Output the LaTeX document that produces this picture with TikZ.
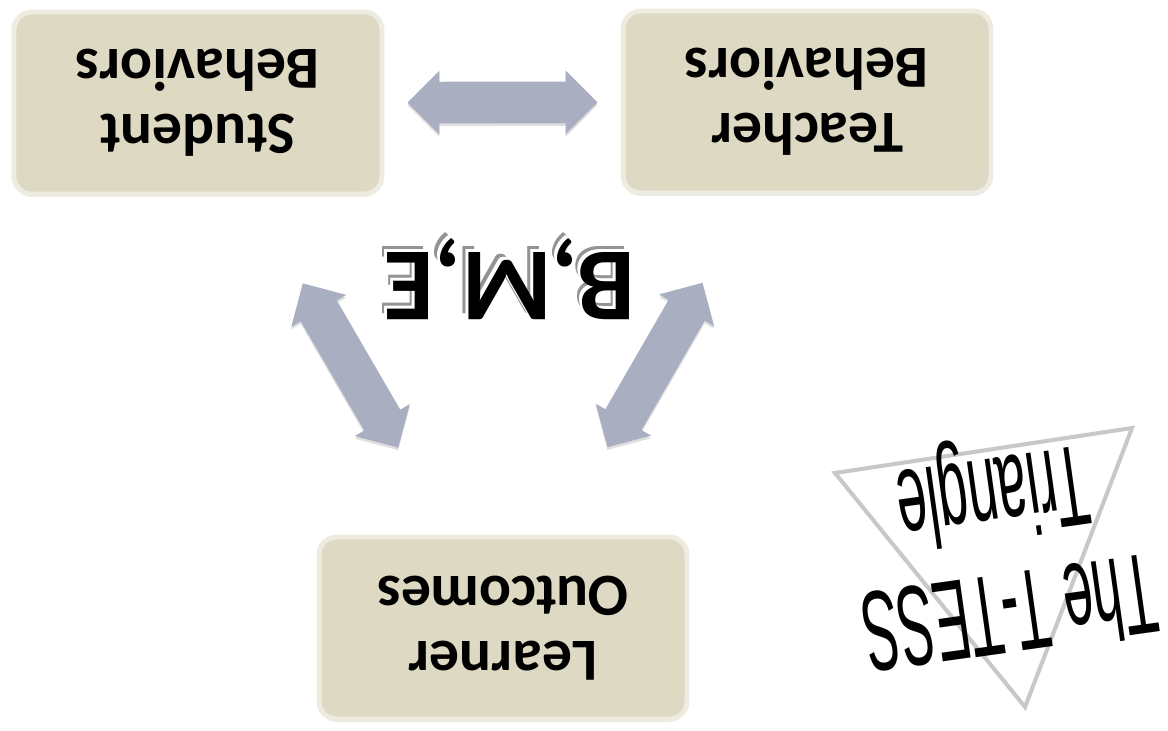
\documentclass[tikz,border=0pt]{standalone}
\usepackage{fontspec}
\usepackage{xcolor}
\usetikzlibrary{shapes.arrows, shapes.geometric, shadows, positioning, calc}
\setmainfont{Carlito}
\newfontfamily\tessfont{Liberation Sans}[FakeStretch=0.47]
\definecolor{BoxFill}{RGB}{221,217,195}
\definecolor{BoxEdge}{RGB}{238,236,225}
\definecolor{ArrowGray}{RGB}{169,175,193}
\definecolor{TriGray}{RGB}{200,200,200}
\newcommand{\ghostword}[1]{%
    \rlap{\textcolor{gray!85}{\hspace{3.2pt}\raisebox{-3.2pt}{#1}}}%
    \rlap{\textcolor{white}{\hspace{1.7pt}\raisebox{-1.7pt}{#1}}}%
    #1}
\tikzset{
    tessbox/.style={
        draw=BoxEdge, line width=2.8pt, fill=BoxFill, rounded corners=10pt,
        minimum width=7.36cm, minimum height=3.64cm, rotate=180, align=center,
        font=\fontsize{34}{37}\selectfont\bfseries,
        drop shadow={opacity=0.3, shadow xshift=0pt, shadow yshift=-1.5pt}
    },
    linkarrow/.style={
        double arrow, fill=ArrowGray, draw=none, inner xsep=0pt, inner ysep=0.41cm,
        minimum height=3.8cm, double arrow head extend=0.22cm,
        drop shadow={opacity=0.25, shadow xshift=0pt, shadow yshift=-1.5pt}
    },
    trioutline/.style={
        draw=TriGray, line width=2.3pt, line join=miter
    }
}

\begin{document}
\begin{tikzpicture}[x=0.02cm, y=-0.02cm]
    \useasboundingbox (0,0) rectangle (1168,730);

    % --- the three boxes ---
    \node[tessbox] (sb) at (198,103) {Student\\Behaviors};
    \node[tessbox] (tb) at (807,102) {Teacher\\Behaviors};
    \node[tessbox] (lo) at (503,628) {Learner\\Outcomes};

    % --- arrows between them ---
    \path (sb.center) -- node[linkarrow, sloped] (sbtb) {} (tb.center);
    \path (sb.center) -- node[linkarrow, sloped] (sblo) {} (lo.center);
    \path (tb.center) -- node[linkarrow, sloped] (tblo) {} (lo.center);

    \node[rotate=180, anchor=base, font=\fontsize{59}{66}\selectfont\bfseries] (bme) at (510,252) {\ghostword{B,M,E}};

    % corner note
    \coordinate (ta) at (835,473);
    \coordinate (tc) at (1132,428);
    \coordinate (tbt) at (1025,707);
    \draw[trioutline] (ta) -- (tc) -- (tbt) -- cycle;
    \node[rotate=188, align=center, font=\tessfont\fontsize{65}{66}\selectfont] (tess) at (1000,546) {The T-TESS\\Triangle};
\end{tikzpicture}
\end{document}
